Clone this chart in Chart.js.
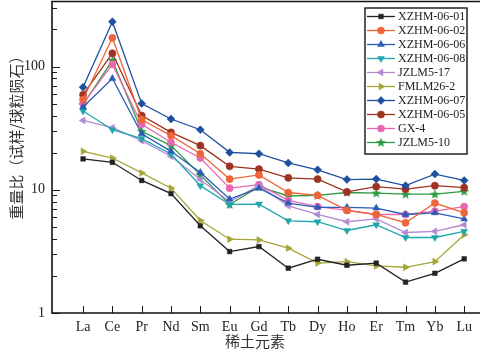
<!DOCTYPE html>
<html><head><meta charset="utf-8">
<script src="https://cdn.jsdelivr.net/npm/chart.js@4/dist/chart.umd.min.js"></script>
<style>html,body{margin:0;padding:0;background:#fff;}#wrap{width:480px;height:357px;}</style>
</head><body><div id="wrap"><canvas id="c" width="480" height="357"></canvas></div>
<script>
const categories = ['La','Ce','Pr','Nd','Sm','Eu','Gd','Tb','Dy','Ho','Er','Tm','Yb','Lu'];
const yTickLabels = [1, 10, 100];
const xTitle = '稀土元素';
const yTitle = '重量比（试样/球粒陨石）';

const xzhm0601 = [17.8,16.7,11.9,9.3,5.1,3.15,3.46,2.31,2.73,2.44,2.54,1.78,2.1,2.75];
const xzhm0602 = [54,171,37,27.5,19.6,12.2,13.2,9.5,9.0,6.8,6.3,5.4,7.8,6.5];
const xzhm0606 = [47,80,28.5,20.5,13.8,8.4,10.3,7.8,7.2,7.2,7.1,6.3,6.5,5.8];
const xzhm0608 = [43.5,30.7,26,19.5,10.8,7.6,7.65,5.6,5.5,4.67,5.2,4.1,4.1,4.6];
const jzlm517  = [36.5,31.9,25,18.7,12.1,8.0,10.8,7.4,6.3,5.5,5.8,4.5,4.6,5.2];
const fmlm262  = [20.5,18.1,13.7,10.3,5.63,3.97,3.92,3.36,2.54,2.61,2.41,2.35,2.61,4.31];
const xzhm0607 = [68,231,50,37.5,30.7,20.1,19.6,16.5,14.5,12.1,12.2,10.8,13.4,11.9];
const xzhm0605 = [59,128,40,29.2,22.8,15.5,14.7,12.5,12.2,9.6,10.6,10.1,10.8,10.4];
const gx4      = [50,104,34,24.3,18.1,10.3,11.0,8.2,7.3,6.8,6.3,6.3,6.7,7.3];
const jzlm510  = [49,112,29.8,22.8,13.2,7.6,10.6,8.9,9.0,9.5,9.4,9.2,9.2,9.7];

const seriesNames = ['XZHM-06-01','XZHM-06-02','XZHM-06-06','XZHM-06-08','JZLM5-17','FMLM26-2','XZHM-06-07','XZHM-06-05','GX-4','JZLM5-10'];
const seriesValues = [xzhm0601,xzhm0602,xzhm0606,xzhm0608,jzlm517,fmlm262,xzhm0607,xzhm0605,gx4,jzlm510];

function starCanvas(color){
  const c=document.createElement('canvas'); c.width=11; c.height=11;
  const g=c.getContext('2d'); g.fillStyle=color; g.beginPath();
  for(let i=0;i<10;i++){const r=i%2?2.2:5.2; const a=-Math.PI/2+i*Math.PI/5; const px=5.5+r*Math.cos(a), py=5.8+r*Math.sin(a); i?g.lineTo(px,py):g.moveTo(px,py);}
  g.closePath(); g.fill(); return c;
}
const styles = [
  {color:'#222222', pointStyle:'rect', rot:0, r:3.3},
  {color:'#f0643a', pointStyle:'circle', rot:0, r:3.6},
  {color:'#2b5cb8', pointStyle:'triangle', rot:0, r:4},
  {color:'#1fa6ad', pointStyle:'triangle', rot:180, r:4},
  {color:'#b48ad0', pointStyle:'triangle', rot:-90, r:4},
  {color:'#a5a538', pointStyle:'triangle', rot:90, r:4},
  {color:'#1f4f9f', pointStyle:'rectRot', rot:0, r:4},
  {color:'#9e3320', pointStyle:'circle', rot:0, r:3.6},
  {color:'#e868b0', pointStyle:'circle', rot:0, r:3.6},
  {color:'#2f9a45', pointStyle:starCanvas('#2f9a45'), rot:0, r:5}
];

const datasets = seriesNames.map((n,i)=>({
  label:n,
  data: seriesValues[i].map((v,k)=>({x:k+1,y:v})),
  borderColor: styles[i].color, backgroundColor: styles[i].color,
  pointStyle: styles[i].pointStyle, pointRotation: styles[i].rot,
  pointRadius: styles[i].r, pointBorderWidth: 0.5,
  borderWidth: 1.3, tension: 0
}));

const serif = "'Liberation Serif', 'DejaVu Serif', serif";
const cjk = "'Noto Sans CJK SC', sans-serif";

const decor = {
  id:'decor',
  afterDraw(chart){
    const {ctx, chartArea:a, scales:{x,y}} = chart;
    ctx.save();
    ctx.strokeStyle='#1a1a1a'; ctx.lineWidth=1;
    y.ticks.forEach(t=>{
      const p=Math.round(y.getPixelForValue(t.value))+0.5;
      const major = yTickLabels.includes(t.value);
      ctx.beginPath(); ctx.moveTo(a.left,p); ctx.lineTo(a.left+(major?8:5),p); ctx.stroke();
    });
    x.ticks.forEach(t=>{
      const p=Math.round(x.getPixelForValue(t.value))+0.5;
      ctx.beginPath(); ctx.moveTo(p,a.bottom); ctx.lineTo(p,a.bottom-7); ctx.stroke();
    });
    ctx.lineWidth=1.6; ctx.strokeStyle='#111';
    ctx.beginPath(); ctx.moveTo(a.right+2, a.top+0.5); ctx.lineTo(a.left, a.top+0.5); ctx.lineTo(a.left, a.bottom); ctx.lineTo(a.right+2, a.bottom); ctx.stroke();
    // axis titles
    ctx.fillStyle='#333'; ctx.font='15px '+cjk; ctx.textAlign='center'; ctx.textBaseline='middle';
    ctx.fillText(xTitle, 255, 341);
    ctx.save(); ctx.translate(16,134); ctx.rotate(-Math.PI/2); ctx.fillText(yTitle,0,0); ctx.restore();
    // legend
    const bx=365, by=8, bw=102, bh=146;
    ctx.fillStyle='#fff'; ctx.fillRect(bx,by,bw,bh);
    ctx.lineWidth=1.5; ctx.strokeStyle='#222'; ctx.strokeRect(bx,by,bw,bh);
    ctx.font='12px '+serif; ctx.textAlign='left'; ctx.textBaseline='middle';
    chart.data.datasets.forEach((d,i)=>{
      const yy = 16.5 + i*14;
      ctx.strokeStyle=d.borderColor; ctx.lineWidth=1.3;
      ctx.beginPath(); ctx.moveTo(367,yy); ctx.lineTo(395,yy); ctx.stroke();
      ctx.fillStyle=d.backgroundColor; ctx.strokeStyle=d.borderColor; ctx.lineWidth=0.5;
      Chart.helpers.drawPoint(ctx,{pointStyle:d.pointStyle, rotation:d.pointRotation, radius:d.pointRadius, borderWidth:0.5}, 381, yy);
      ctx.fillStyle='#222'; ctx.fillText(d.label, 398, yy+0.5);
    });
    ctx.restore();
  }
};

new Chart(document.getElementById('c'), {
  type:'line',
  data:{datasets},
  options:{
    responsive:false, animation:false, devicePixelRatio:1,
    layout:{autoPadding:false, padding:{top:1,right:0,left:0,bottom:0}},
    plugins:{legend:{display:false}, tooltip:{enabled:false}},
    scales:{
      x:{type:'linear', min:-0.06, max:14.54,
        afterBuildTicks(s){ s.ticks = categories.map((c,i)=>({value:i+1})); },
        afterFit(s){ s.height=44; s.paddingLeft=0; s.paddingRight=0; },
        grid:{display:false, drawTicks:false}, border:{display:false},
        ticks:{autoSkip:false, maxRotation:0, padding:6, color:'#222', font:{family:serif, size:14},
          callback:(v)=>categories[Math.round(v)-1] ?? ''}
      },
      y:{type:'logarithmic', min:1, max:340,
        afterBuildTicks(s){ const t=[]; for(const d of [1,10,100]){ for(let k=1;k<=9;k++){ const v=k*d; if(v<=300) t.push({value:v}); } } s.ticks=t; },
        afterFit(s){ s.width=52; s.paddingTop=0; s.paddingBottom=0; },
        grid:{display:false, drawTicks:false}, border:{display:false},
        ticks:{autoSkip:false, padding:7, color:'#222', font:{family:serif, size:14},
          callback:(v)=> yTickLabels.includes(v) ? String(v) : ''}
      }
    }
  },
  plugins:[decor]
});
</script></body></html>
